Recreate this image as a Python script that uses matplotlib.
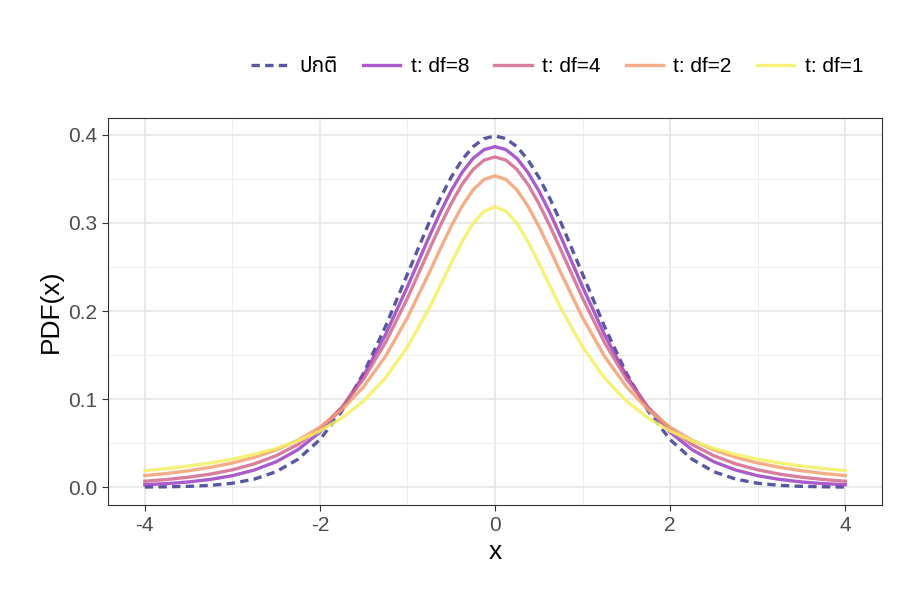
import matplotlib
matplotlib.use("Agg")
import matplotlib.pyplot as plt
from matplotlib import font_manager

x_half = [0, 0.125, 0.25, 0.375, 0.5, 0.625, 0.75, 1, 1.25, 1.5, 1.75, 2, 2.25, 2.5, 2.75, 3, 3.25, 3.5, 3.75, 4]
normal_half = [0.3989, 0.3958, 0.3867, 0.3719, 0.3521, 0.3282, 0.3011, 0.2420, 0.1826, 0.1295, 0.0863, 0.0540, 0.0317, 0.0175, 0.0091, 0.0044, 0.0020, 0.0009, 0.0004, 0.0001]
t8_half = [0.3867, 0.3833, 0.3734, 0.3575, 0.3367, 0.3120, 0.2848, 0.2276, 0.1733, 0.1268, 0.0899, 0.0624, 0.0426, 0.0288, 0.0194, 0.0130, 0.0088, 0.0059, 0.0040, 0.0028]
t4_half = [0.3750, 0.3714, 0.3608, 0.3440, 0.3222, 0.2971, 0.2699, 0.2147, 0.1644, 0.1229, 0.0905, 0.0663, 0.0485, 0.0357, 0.0264, 0.0197, 0.0148, 0.0113, 0.0087, 0.0067]
t2_half = [0.3536, 0.3494, 0.3376, 0.3193, 0.2963, 0.2705, 0.2438, 0.1925, 0.1487, 0.1141, 0.0878, 0.0680, 0.0533, 0.0422, 0.0338, 0.0274, 0.0225, 0.0186, 0.0155, 0.0131]
t1_half = [0.3183, 0.3134, 0.2996, 0.2791, 0.2546, 0.2289, 0.2037, 0.1592, 0.1242, 0.0979, 0.0784, 0.0637, 0.0525, 0.0439, 0.0372, 0.0318, 0.0275, 0.0240, 0.0211, 0.0187]

def full(h):
    return h[:0:-1] + h
xs = [-v for v in x_half[:0:-1]] + x_half

series = [
    ("ปกติ", normal_half, "#3b3b8f", "--"),
    ("t: df=8", t8_half, "#9b3fc1", "-"),
    ("t: df=4", t4_half, "#d2688e", "-"),
    ("t: df=2", t2_half, "#f3a072", "-"),
    ("t: df=1", t1_half, "#f4f062", "-"),
]

names = {f.name for f in font_manager.fontManager.ttflist}
fams = [f for f in ["Liberation Sans", "Noto Sans Thai", "Noto Sans Thai Looped", "Loma", "Garuda", "Tlwg Typo", "DejaVu Sans"] if f in names]
plt.rcParams['font.family'] = fams

fig = plt.figure(figsize=(9, 6), dpi=100)
ax = fig.add_axes([0.12, 0.158, 0.86, 0.645])
for lab, h, c, ls in series:
    ax.plot(xs, full(h), color=c, ls=ls, lw=2.4, alpha=0.85, label=lab,
            solid_joinstyle="round",
            dashes=(2.5, 1.6) if ls == "--" else (None, None))
ax.set_xlim(-4.42, 4.42)
ax.set_ylim(-0.0205, 0.419)
ax.set_xticks([-4, -2, 0, 2, 4])
ax.set_xticklabels(["-4", "-2", "0", "2", "4"])
ax.set_yticks([0, 0.1, 0.2, 0.3, 0.4])
ax.set_yticklabels(["0.0", "0.1", "0.2", "0.3", "0.4"])
ax.set_xticks([-3, -1, 1, 3], minor=True)
ax.set_yticks([0.05, 0.15, 0.25, 0.35], minor=True)
ax.grid(True, which="major", color="#e6e6e6", lw=1.2)
ax.grid(True, which="minor", color="#eeeeee", lw=0.7)
ax.set_axisbelow(True)
for s in ax.spines.values():
    s.set_color("#333333"); s.set_linewidth(0.8)
ax.tick_params(which="major", labelsize=15, colors="#333333", length=4, labelcolor="#4d4d4d")
ax.tick_params(which="minor", length=0)
ax.set_xlabel("x", fontsize=19)
ax.set_ylabel("PDF(x)", fontsize=19)
ax.legend(loc="lower right", bbox_to_anchor=(1.0, 1.06), ncol=5, frameon=False,
          fontsize=15, handlelength=1.8, columnspacing=1.2, handletextpad=0.5)
fig.savefig("out.png")
